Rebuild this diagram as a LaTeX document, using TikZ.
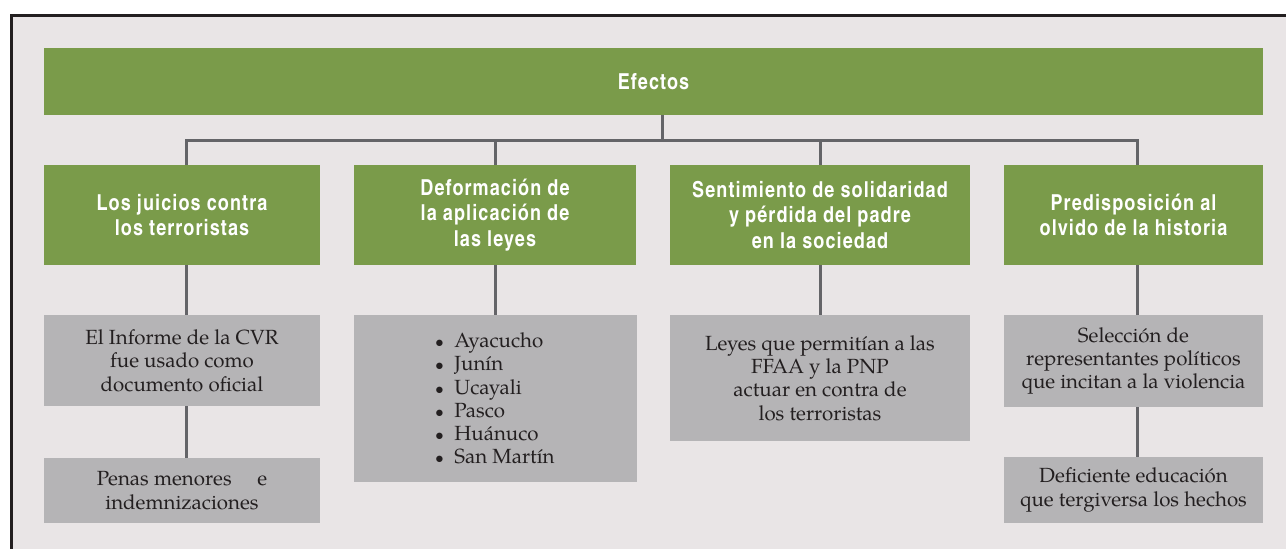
\documentclass[tikz,border=0pt]{standalone}
\usepackage{fontspec}
\usepackage{xcolor}
\usepackage{tikz}
\usetikzlibrary{positioning}
\setmainfont{texgyrepagella}[Extension=.otf, UprightFont=*-regular, BoldFont=*-bold]
\newfontfamily\hdrfont{texgyreheroscn}[Extension=.otf, UprightFont=*-regular, BoldFont=*-bold, LetterSpace=5]
\definecolor{boxgreen}{RGB}{122,155,74}
\definecolor{boxgray}{RGB}{181,180,182}
\definecolor{paper}{RGB}{233,229,230}
\definecolor{linegray}{RGB}{100,100,104}
\definecolor{ink}{RGB}{35,31,32}
\tikzset{
  hdr/.style={fill=boxgreen, text=white, inner sep=0pt, align=center,
    font=\hdrfont\bfseries\fontsize{22}{25.5}\selectfont},
  info/.style={fill=boxgray, text=ink, inner sep=0pt, align=center,
    font=\fontsize{20.5}{23.3}\selectfont},
  link/.style={draw=linegray, line width=3pt}
}
\newcommand{\itm}[1]{\makebox[19pt][l]{\scalebox{0.8}{$\bullet$}}#1}

\begin{document}
\begin{tikzpicture}[x=1pt,y=-1pt]
        \useasboundingbox (0,0) rectangle (1286,549);
        \clip (0,0) rectangle (1286,549);
        \draw[draw=ink, line width=3pt, fill=paper] (11.5,15) rectangle (1310,570);
        % top row
        \node[hdr, minimum width=1219pt, minimum height=67pt] (top) at (653.5,81.5) {Efectos};
        \node[hdr, minimum width=276pt, minimum height=100pt] (hdr1) at (182,215) {Los juicios contra\\los terroristas};
        \node[hdr, minimum width=282pt, minimum height=100pt] (hdr2) at (495,215) {Deformación de\\la aplicación de\\las leyes};
        \node[hdr, minimum width=300pt, minimum height=100pt] (hdr3) at (820,215) {Sentimiento de solidaridad\\y pérdida del padre\\en la sociedad};
        \node[hdr, minimum width=259pt, minimum height=100pt] (hdr4) at (1133.5,215) {Predisposición al\\olvido de la historia};
        % gray boxes
        \node[info, minimum width=276pt, minimum height=91pt] (inf1a) at (182,360.5) {El Informe de la CVR\\fue usado como\\documento oficial};
        \node[info, minimum width=276pt, minimum height=65pt] (inf1b) at (182,490.5) {Penas menores\quad\ e\\indemnizaciones};
        \node[info, minimum width=283pt, minimum height=167pt, align=left] (inf2) at (495,398.5)
          {\itm{Ayacucho}\\\itm{Junín}\\\itm{Ucayali}\\\itm{Pasco}\\\itm{Huánuco}\\\itm{San Martín}};
        \node[info, minimum width=300pt, minimum height=126pt] (inf3) at (820,378) {Leyes que permitían a las\\FFAA y la PNP\\actuar en contra de\\los terroristas};
        \node[info, minimum width=259pt, minimum height=92pt] (inf4a) at (1133.5,361) {Selección de\\representantes políticos\\que incitan a la violencia};
        \node[info, minimum width=259pt, minimum height=66pt] (inf4b) at (1133.5,490) {Deficiente educación\\que tergiversa los hechos};
        % connectors
        \coordinate (c0) at (662,140);
        \coordinate (c1) at (186,140);
        \coordinate (c2) at (495,140);
        \coordinate (c3) at (820.5,140);
        \coordinate (c4) at (1137.5,140);
        \draw[link] (c0 |- top.south) -- (c0);
        \draw[link] (c1 |- hdr1.north) -- (c1) -- (c4) -- (c4 |- hdr4.north);
        \draw[link] (c2) -- (c2 |- hdr2.north);
        \draw[link] (c3) -- (c3 |- hdr3.north);
        \draw[link] (c1 |- hdr1.south) -- (c1 |- inf1a.north);
        \draw[link] (c1 |- inf1a.south) -- (c1 |- inf1b.north);
        \draw[link] (c2 |- hdr2.south) -- (c2 |- inf2.north);
        \draw[link] (c3 |- hdr3.south) -- (c3 |- inf3.north);
        \draw[link] (c4 |- hdr4.south) -- (c4 |- inf4a.north);
        \draw[link] (c4 |- inf4a.south) -- (c4 |- inf4b.north);
    \end{tikzpicture}
\end{document}
